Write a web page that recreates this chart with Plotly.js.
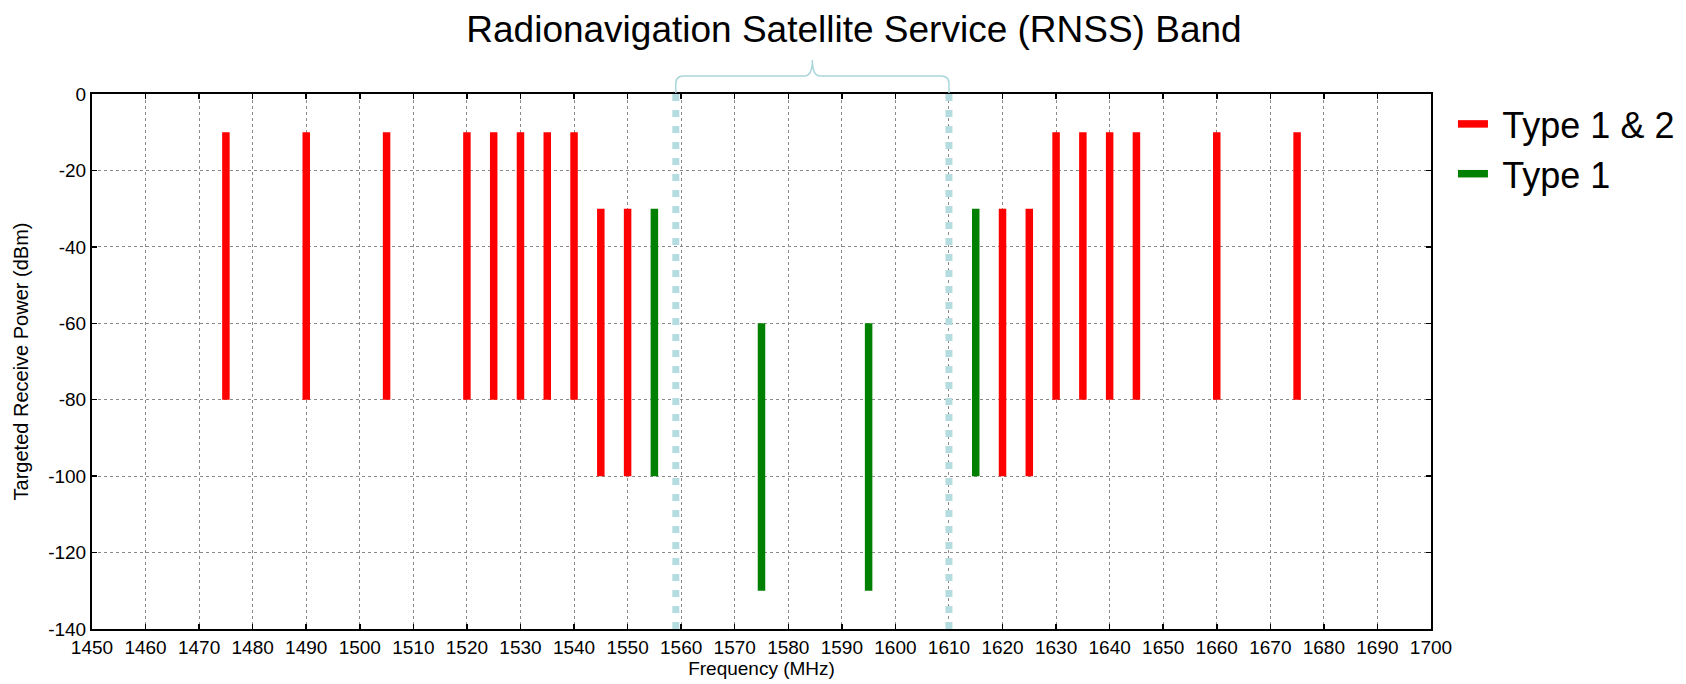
<!DOCTYPE html>
<html>
<head>
<meta charset="utf-8">
<script src="https://cdn.plot.ly/plotly-3.0.1.min.js"></script>
<style>html,body{margin:0;padding:0;background:#fff;}#chart{width:1686px;height:684px;}</style>
</head>
<body>
<div id="chart"></div>
<script>
// Type 1 & 2 (red) emitters: frequency, top and bottom of targeted power range
const type12Freq   = [1475, 1490, 1505, 1520, 1525, 1530, 1535, 1540, 1545, 1550, 1620, 1625, 1630, 1635, 1640, 1645, 1660, 1675];
const type12Top    = [-10, -10, -10, -10, -10, -10, -10, -10, -30, -30, -30, -30, -10, -10, -10, -10, -10, -10];
const type12Bottom = [-80, -80, -80, -80, -80, -80, -80, -80, -100, -100, -100, -100, -80, -80, -80, -80, -80, -80];
// Type 1 (green) emitters
const type1Freq   = [1555, 1575, 1595, 1615];
const type1Top    = [-30, -60, -60, -30];
const type1Bottom = [-100, -130, -130, -100];
// RNSS band edges (MHz)
const bandEdges = [1559, 1610];
const xTicks = [1450,1460,1470,1480,1490,1500,1510,1520,1530,1540,1550,1560,1570,1580,1590,1600,1610,1620,1630,1640,1650,1660,1670,1680,1690,1700];
const yTicks = [0, -20, -40, -60, -80, -100, -120, -140];

function segments(f, t, b) {
  const x = [], y = [];
  for (let i = 0; i < f.length; i++) { x.push(f[i], f[i], null); y.push(t[i], b[i], null); }
  return {x, y};
}
const s12 = segments(type12Freq, type12Top, type12Bottom);
const s1 = segments(type1Freq, type1Top, type1Bottom);

const FONT = 'Liberation Sans, Arial, sans-serif';
const bandColor = '#b5dde1';

const traces = [
  {x: s12.x, y: s12.y, mode: 'lines', name: ' Type 1 & 2', line: {color: '#ff0000', width: 7.5}, connectgaps: false, hoverinfo: 'x+y'},
  {x: s1.x, y: s1.y, mode: 'lines', name: ' Type 1', line: {color: '#008000', width: 7.5}, connectgaps: false, hoverinfo: 'x+y'}
];

const lo = bandEdges[0], hi = bandEdges[1], mid = (lo + hi) / 2;
const yb = 1.0336, yp = 1.0636, ye = 1.002, yc = 1.02;
const bracePath = `M ${lo},${ye} L ${lo},${yc} Q ${lo},${yb} ${lo+1.5},${yb} L ${mid-1.5},${yb} Q ${mid},${yb} ${mid},${yp} Q ${mid},${yb} ${mid+1.5},${yb} L ${hi-1.5},${yb} Q ${hi},${yb} ${hi},${yc} L ${hi},${ye}`;

const shapes = bandEdges.map(e => ({
  type: 'line', xref: 'x', yref: 'y', x0: e, x1: e, y0: 0, y1: -140,
  line: {color: bandColor, width: 7, dash: '7px,9px'}, layer: 'above'
}));
shapes.push({type: 'path', xref: 'x', yref: 'paper', path: bracePath, line: {color: '#a9d6da', width: 1.5}});

const layout = {
  width: 1686, height: 684,
  margin: {l: 92, r: 255, t: 94, b: 55, autoexpand: false},
  paper_bgcolor: '#fff', plot_bgcolor: '#fff',
  font: {family: FONT, color: '#000'},
  title: {text: 'Radionavigation Satellite Service (RNSS) Band', font: {family: FONT, size: 37, color: '#000'},
          x: 0.5065, xanchor: 'center', xref: 'container', y: 0.958, yanchor: 'middle', yref: 'container'},
  xaxis: {
    range: [1450, 1700], tickmode: 'array', tickvals: xTicks, ticktext: xTicks.map(String),
    showgrid: true, gridcolor: '#8a8a8a', griddash: 'dot', gridwidth: 1,
    showline: true, linecolor: '#000', linewidth: 2, mirror: 'ticks',
    ticks: 'inside', ticklen: 5, tickwidth: 1.5, tickcolor: '#000',
    tickfont: {family: FONT, size: 19, color: '#000'}, zeroline: false,
    title: {text: 'Frequency (MHz)', font: {family: FONT, size: 19, color: '#000'}, standoff: 4}
  },
  yaxis: {
    range: [-140, 0], tickmode: 'array', tickvals: yTicks, ticktext: yTicks.map(String),
    showgrid: true, gridcolor: '#8a8a8a', griddash: 'dot', gridwidth: 1,
    showline: true, linecolor: '#000', linewidth: 2, mirror: 'ticks',
    ticks: 'inside', ticklen: 5, tickwidth: 1.5, tickcolor: '#000',
    tickfont: {family: FONT, size: 19, color: '#000'}, zeroline: false,
    title: {text: 'Targeted Receive Power (dBm)', font: {family: FONT, size: 20, color: '#000'}, standoff: 14}
  },
  legend: {x: 1.0164, xanchor: 'left', xref: 'paper', y: 1.0, yanchor: 'top', font: {family: FONT, size: 36, color: '#000'},
           bgcolor: 'rgba(0,0,0,0)', borderwidth: 0, itemwidth: 30, tracegroupgap: 0},
  showlegend: true,
  shapes: shapes
};

Plotly.newPlot('chart', traces, layout, {displayModeBar: false, staticPlot: true});
</script>
</body>
</html>
